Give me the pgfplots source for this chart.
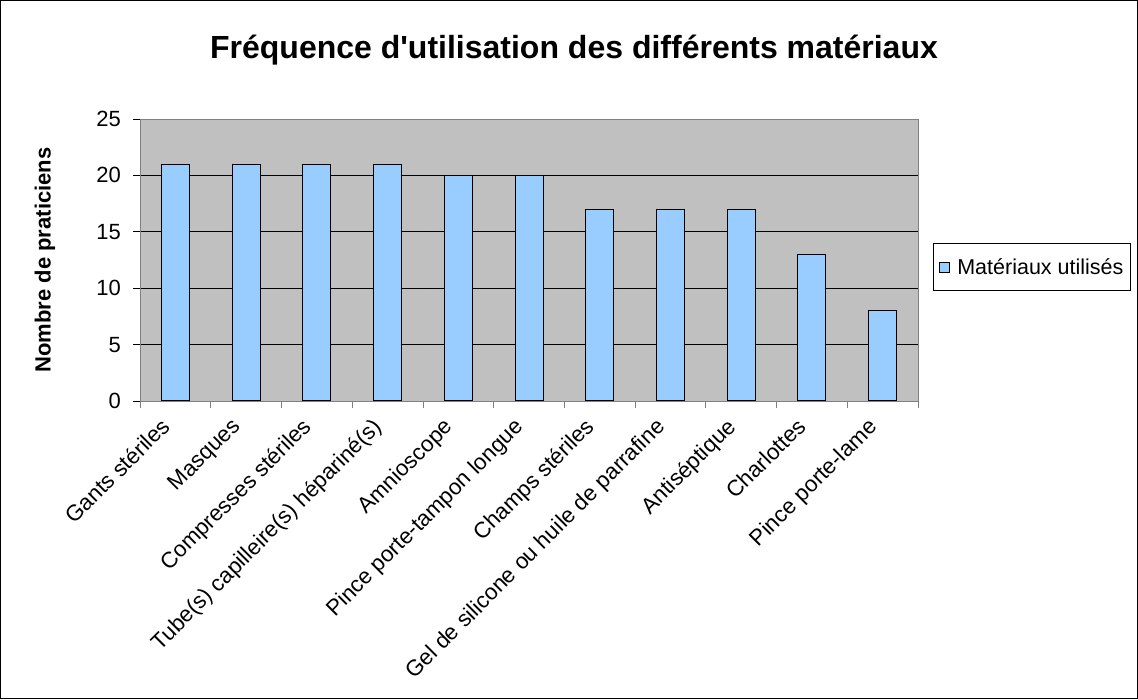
\documentclass[border=0pt]{standalone}
\usepackage{fontspec}
\setmainfont{Liberation Sans}
\newfontfamily\plainfont{Liberation Sans}
\usepackage{pgfplots}
\pgfplotsset{compat=1.18}
\definecolor{plotgray}{HTML}{C0C0C0}
\definecolor{barblue}{HTML}{99CCFF}
\definecolor{axgray}{HTML}{808080}
\begin{document}
\begin{tikzpicture}[x=1pt,y=1pt]
\fill[white] (0,0) rectangle (1138,699);
\draw[black, line width=1.2pt] (0.6,0.6) rectangle (1137.4,698.4);
\node[font=\fontsize{32}{38}\plainfont\bfseries] at (574,649) {Fréquence d'utilisation des différents matériaux};
\begin{axis}[
  at={(140pt,298pt)}, anchor=south west,
  scale only axis, width=778pt, height=282pt,
  xmin=-0.5, xmax=10.5, ymin=0, ymax=25,
  axis background/.style={fill=plotgray},
  axis line style={draw=axgray, line width=0.8pt},
  ybar, bar width=28pt,
  ytick={0,5,...,25},
  ymajorgrids, grid style={black, line width=0.8pt},
  major grid style={black, line width=0.8pt},
  xtick={0,...,10},
  xticklabels={Gants stériles, Masques, Compresses stériles, Tube(s) capilleire(s) hépariné(s), Amnioscope, Pince porte-tampon longue, Champs stériles, Gel de silicone ou huile de parrafine, Antiséptique, Charlottes, Pince porte-lame},
  x tick style={draw=none},
  minor xtick={-0.5,0.5,...,10.5},
  minor x tick style={draw=axgray, line width=0.8pt},
  y tick style={draw=black, line width=0.8pt},
  xtick pos=bottom, ytick pos=left,
  tick align=outside,
  major tick length=7pt, minor tick length=7pt,
  xticklabel style={xshift=-16pt, yshift=-7pt, rotate=45, anchor=north east, font=\fontsize{22.3}{26}\selectfont, inner sep=1pt},
  yticklabel style={font=\fontsize{22}{26}\selectfont, inner sep=1pt, xshift=-11pt},
  /pgf/number format/assume math mode=true,
  ylabel={Nombre de praticiens},
  ylabel style={font=\fontsize{22}{26}\selectfont\bfseries, at={(axis description cs:-0.1221,0.5)}, anchor=center},
  legend style={at={(axis description cs:1.1465,0.475)}, anchor=center, draw=black, line width=0.8pt, font=\fontsize{21.5}{25}\selectfont, inner xsep=5pt, inner ysep=13pt, legend cell align=left},
  legend image code/.code={\draw[#1, draw=black, line width=0.8pt] (0pt,-5pt) rectangle (10pt,5pt);},
]
\addplot[fill=barblue, draw=black, line width=1pt] coordinates {
(0,21) (1,21) (2,21) (3,21) (4,20) (5,20) (6,17) (7,17) (8,17) (9,13) (10,8)};
\addlegendentry{\hspace{6pt}Matériaux utilisés}
\end{axis}
\end{tikzpicture}
\end{document}
